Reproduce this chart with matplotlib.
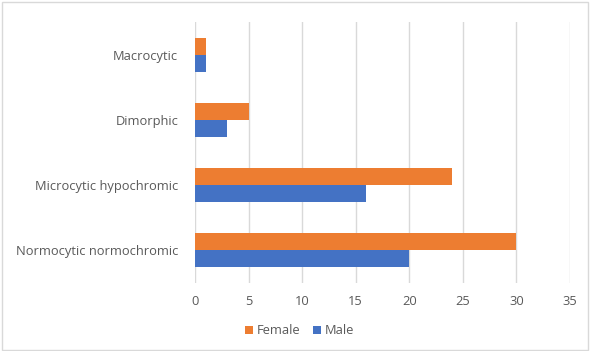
import numpy as np
import matplotlib
matplotlib.use("Agg")
from matplotlib import pyplot as plt
from matplotlib.patches import Rectangle

categories = ["Normocytic normochromic", "Microcytic hypochromic", "Dimorphic", "Macrocytic"]
female = [30, 24, 5, 1]
male = [20, 16, 3, 1]
xticks = [0, 5, 10, 15, 20, 25, 30, 35]

plt.rcParams['font.family'] = ['Open Sans', 'DejaVu Sans']
text_color = '#595959'

fig = plt.figure(figsize=(5.9, 3.51), dpi=100)
ax = fig.add_axes([0.3305, 0.194, 0.6356, 0.743])

y = np.arange(len(categories))
h = 0.26
ax.barh(y - h / 2, male, height=h, color='#4472C4', label='Male', zorder=3)
ax.barh(y + h / 2, female, height=h, color='#ED7D31', label='Female', zorder=3)

ax.set_ylim(-0.5, len(categories) - 0.5)
ax.set_xlim(0, 35)
ax.set_xticks(xticks)
ax.set_yticks(y)
ax.set_yticklabels(categories)
ax.tick_params(axis='both', length=0, labelsize=9.3, labelcolor=text_color)
ax.tick_params(axis='y', pad=12)
ax.tick_params(axis='x', pad=9)
ax.grid(axis='x', color='#D9D9D9', linewidth=1, zorder=0)
for s in ax.spines.values():
    s.set_visible(False)

handles, labels = ax.get_legend_handles_labels()
fig.legend(handles[::-1], labels[::-1], loc='center', bbox_to_anchor=(0.508, 0.057),
           ncol=2, frameon=False, fontsize=9.3, labelcolor=text_color,
           handlelength=0.6, handleheight=0.6, handletextpad=0.3, columnspacing=1.0)

fig.patches.append(Rectangle((0.003, 0.003), 0.994, 0.992, transform=fig.transFigure,
                             fill=False, edgecolor='#D9D9D9', linewidth=1))

fig.savefig("out.png", dpi=100)
